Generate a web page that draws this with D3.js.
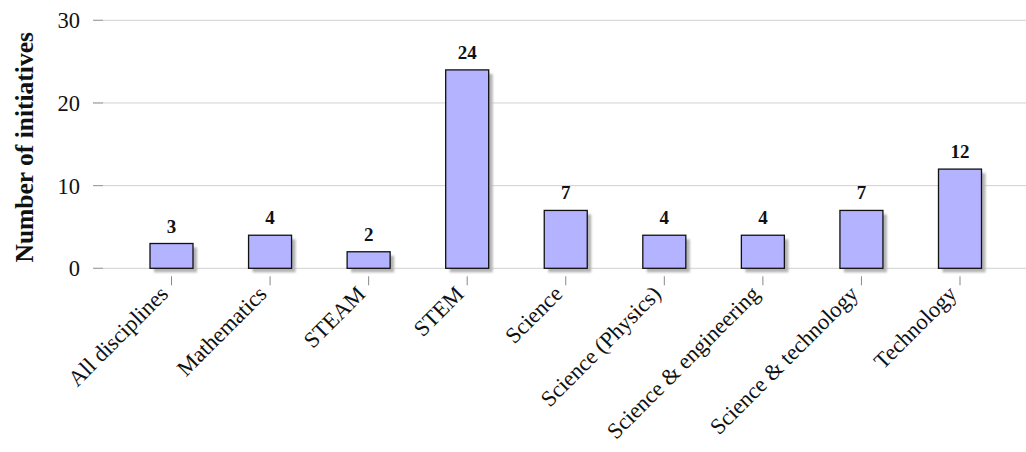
<!DOCTYPE html>
<html>
<head>
<meta charset="utf-8">
<script src="https://cdn.jsdelivr.net/npm/d3@7"></script>
<style>
  html, body { margin: 0; padding: 0; background: #fff; }
  svg { display: block; font-family: "Liberation Serif", "DejaVu Serif", serif; }
</style>
</head>
<body>
<svg id="chart" width="1026" height="452"></svg>
<script>
// Initiatives per discipline
const categories = ["All disciplines", "Mathematics", "STEAM", "STEM", "Science",
  "Science (Physics)", "Science & engineering", "Science & technology", "Technology"];
const counts = [3, 4, 2, 24, 7, 4, 4, 7, 12];
const yTicks = [0, 10, 20, 30];

const svg = d3.select("#chart");
const margin = { left: 93, top: 20.3, plotBottom: 268.3 };
const width = 1026;

const x = d3.scalePoint()
  .domain(categories)
  .range([171.5, 960]);

const y = d3.scaleLinear()
  .domain([0, 30])
  .range([margin.plotBottom, margin.top]);

const barW = 43;

// soft drop shadow under each bar
const defs = svg.append("defs");
const f = defs.append("filter").attr("id", "shadow")
  .attr("x", "-20%").attr("y", "-20%").attr("width", "140%").attr("height", "140%");
f.append("feGaussianBlur").attr("stdDeviation", 0.9);

// horizontal grid lines
svg.append("g")
  .selectAll("line")
  .data(yTicks)
  .join("line")
  .attr("x1", margin.left).attr("x2", width)
  .attr("y1", d => y(d)).attr("y2", d => y(d))
  .attr("stroke", "#d0d0d0").attr("stroke-width", 1);

// y axis tick marks
svg.append("g")
  .selectAll("line")
  .data(yTicks)
  .join("line")
  .attr("x1", margin.left).attr("x2", margin.left + 10)
  .attr("y1", d => y(d)).attr("y2", d => y(d))
  .attr("stroke", "#9a9a9a").attr("stroke-width", 1);

// y tick labels
svg.append("g")
  .selectAll("text")
  .data(yTicks)
  .join("text")
  .attr("x", 80)
  .attr("y", d => y(d))
  .attr("dy", "0.35em")
  .attr("text-anchor", "end")
  .attr("font-size", 22.5)
  .attr("fill", "#111")
  .text(d => d);

// y axis title
svg.append("text")
  .attr("transform", `translate(33,${(margin.top + margin.plotBottom) / 2 + 3}) rotate(-90)`)
  .attr("text-anchor", "middle")
  .attr("font-size", 25.5)
  .attr("font-weight", "bold")
  .attr("fill", "#111")
  .text("Number of initiatives");

// x tick marks
svg.append("g")
  .selectAll("line")
  .data(categories)
  .join("line")
  .attr("x1", d => x(d)).attr("x2", d => x(d))
  .attr("y1", margin.plotBottom + 8).attr("y2", margin.plotBottom + 17)
  .attr("stroke", "#888").attr("stroke-width", 1);

// shadows
svg.append("g")
  .selectAll("rect")
  .data(counts)
  .join("rect")
  .attr("x", (d, i) => x(categories[i]) - barW / 2 + 4)
  .attr("y", d => y(d) + 4)
  .attr("width", barW)
  .attr("height", d => y(0) - y(d))
  .attr("fill", "#b4b4b4")
  .attr("filter", "url(#shadow)");

// bars
svg.append("g")
  .selectAll("rect")
  .data(counts)
  .join("rect")
  .attr("x", (d, i) => x(categories[i]) - barW / 2)
  .attr("y", d => y(d))
  .attr("width", barW)
  .attr("height", d => y(0) - y(d))
  .attr("fill", "#b3b3ff")
  .attr("stroke", "#111")
  .attr("stroke-width", 1.3);

// value labels
svg.append("g")
  .selectAll("text")
  .data(counts)
  .join("text")
  .attr("x", (d, i) => x(categories[i]))
  .attr("y", d => y(d) - 11)
  .attr("text-anchor", "middle")
  .attr("font-size", 19)
  .attr("font-weight", "bold")
  .attr("fill", "#111")
  .text(d => d);

// category labels, rotated
svg.append("g")
  .selectAll("text")
  .data(categories)
  .join("text")
  .attr("transform", d => `translate(${x(d) - 2},${margin.plotBottom + 27}) rotate(-45)`)
  .attr("text-anchor", "end")
  .attr("font-size", 22.5)
  .attr("fill", "#111")
  .text(d => d);
</script>
</body>
</html>
